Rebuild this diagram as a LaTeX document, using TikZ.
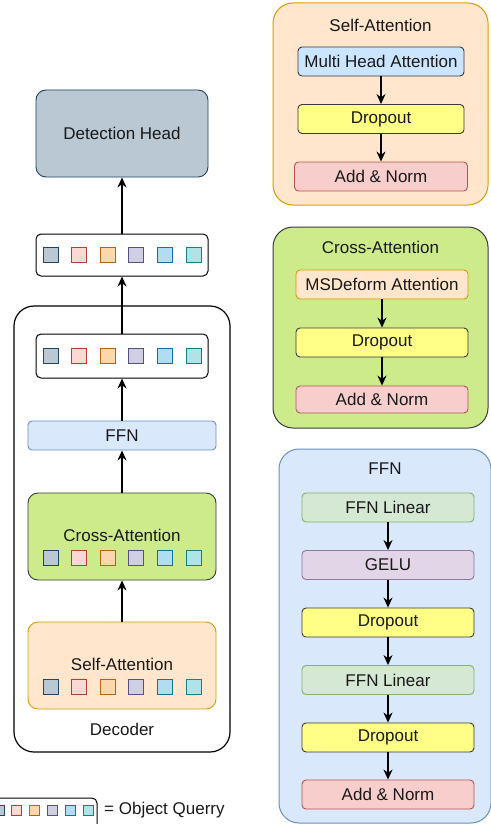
\documentclass[tikz,border=0pt]{standalone}
\usepackage{fontspec}
\setmainfont{Liberation Sans}
\usetikzlibrary{arrows.meta}

\definecolor{qf1}{HTML}{BAC8D3}\definecolor{qd1}{HTML}{23445D}
\definecolor{qf2}{HTML}{FAD9D5}\definecolor{qd2}{HTML}{AE4132}
\definecolor{qf3}{HTML}{FAD7AC}\definecolor{qd3}{HTML}{B46504}
\definecolor{qf4}{HTML}{D0CEE2}\definecolor{qd4}{HTML}{56517E}
\definecolor{qf5}{HTML}{B1DDF0}\definecolor{qd5}{HTML}{10739E}
\definecolor{qf6}{HTML}{B0E3E6}\definecolor{qd6}{HTML}{0E8088}
\definecolor{orgfill}{HTML}{FFE6CC}\definecolor{orgline}{HTML}{D79B00}
\definecolor{grnfill}{HTML}{CDEB8B}\definecolor{darkline}{HTML}{36393D}
\definecolor{blufill}{HTML}{DAE8FC}\definecolor{bluline}{HTML}{6C8EBF}
\definecolor{mhafill}{HTML}{CCE5FF}
\definecolor{yelfill}{HTML}{FFFF88}
\definecolor{redfill}{HTML}{F8CECC}\definecolor{redline}{HTML}{B85450}
\definecolor{linfill}{HTML}{D5E8D4}\definecolor{linline}{HTML}{82B366}
\definecolor{gelfill}{HTML}{E1D5E7}\definecolor{gelline}{HTML}{9673A6}

\newcommand{\fs}{\fontsize{17}{20}\selectfont}
% one row of six object queries: name, x, y, size, spacing
\newcommand{\qrow}[5]{%
  \foreach \i in {1,...,6}
    \node[qsq, minimum size=#4pt, fill=qf\i, draw=qd\i] (#1\i) at ({#2+(\i-3.5)*#5},#3) {};
}

\tikzset{
  blk/.style={draw=darkline, line width=0.9pt, rounded corners=4pt, inner sep=0pt,
    minimum height=29pt, font=\fs, text=black!90},
  panel/.style={line width=1pt, rounded corners=20pt, inner sep=0pt},
  qbox/.style={draw, line width=1pt, rounded corners=5pt, inner sep=0pt, fill=white},
  qsq/.style={line width=0.9pt, inner sep=0pt},
  lbl/.style={font=\fs, text=black!90, inner sep=0pt},
  flow/.style={line width=1.2pt, -{Stealth[length=10pt,width=9pt]}},
}

\begin{document}
\begin{tikzpicture}[x=1pt,y=-1pt]
  \useasboundingbox (0,0) rectangle (490,824);

  % decoder column
  \node[panel, draw=black, line width=1.2pt, minimum width=216pt, minimum height=446pt] (dec) at (122,529) {};
  \node[lbl] (declbl) at (122,729) {Decoder};

  \node[blk, draw=qd1, fill=qf1, rounded corners=10pt, minimum width=172pt, minimum height=87pt] (head) at (122,133.5) {Detection Head};
  \node[qbox, minimum width=172pt, minimum height=42pt] (qout) at (122,255) {};
  \qrow{qo}{122}{255}{15}{28.6}
  \node[qbox, minimum width=172pt, minimum height=44pt] (qin) at (122,356) {};
  \qrow{qi}{122}{356}{15}{28.6}
  \node[blk, draw=bluline, fill=blufill, minimum width=188pt] (ffn) at (122,435.5) {FFN};
  \node[blk, fill=grnfill, rounded corners=10pt, minimum width=188pt, minimum height=87pt] (cross) at (122,536.5) {};
  \node[lbl] (crosslbl) at (122,535) {Cross-Attention};
  \qrow{qc}{122}{558}{15}{28.6}
  \node[blk, draw=orgline, fill=orgfill, rounded corners=10pt, minimum width=188pt, minimum height=87pt] (self) at (122,665.5) {};
  \node[lbl] (selflbl) at (122,664) {Self-Attention};
  \qrow{qs}{122}{687}{15}{28.6}

  \draw[flow] (self) -- (cross);
  \draw[flow] (cross) -- (ffn);
  \draw[flow] (ffn) -- (qin);
  \draw[flow] (qin) -- (qout);
  \draw[flow] (qout) -- (head);

  % legend
  \node[qbox, minimum width=107pt, minimum height=32pt] (legbox) at (43.5,814) {};
  \qrow{ql}{43.5}{810}{10}{17.8}
  \node[lbl, anchor=west] (legtxt) at (104,810) {= Object Querry};

  % self-attention block
  \node[panel, draw=orgline, fill=orgfill, minimum width=215pt, minimum height=202pt] (sap) at (380.5,104) {};
  \node[lbl] (saplbl) at (380.5,25) {Self-Attention};
  \node[blk, fill=mhafill, minimum width=166pt] (mha) at (381,61.5) {Multi Head Attention};
  \node[blk, fill=yelfill, minimum width=166pt] (sadrop) at (381,119) {Dropout};
  \node[blk, draw=redline, fill=redfill, minimum width=173pt] (sanorm) at (381,176.5) {Add \& Norm};
  \draw[flow] (mha) -- (sadrop);
  \draw[flow] (sadrop) -- (sanorm);

  % cross-attention block
  \node[panel, draw=darkline, fill=grnfill, minimum width=215pt, minimum height=201pt] (cap) at (380.5,327.5) {};
  \node[lbl] (caplbl) at (380.5,247) {Cross-Attention};
  \node[blk, draw=orgline, fill=orgfill, minimum width=172pt] (msd) at (382,284.5) {MSDeform Attention};
  \node[blk, fill=yelfill, minimum width=172pt] (cadrop) at (382,342.5) {Dropout};
  \node[blk, draw=redline, fill=redfill, minimum width=172pt, minimum height=27pt] (canorm) at (382,399.5) {Add \& Norm};
  \draw[flow] (msd) -- (cadrop);
  \draw[flow] (cadrop) -- (canorm);

  % ffn block
  \node[panel, draw=bluline, fill=blufill, minimum width=212pt, minimum height=374pt] (fp) at (385,636) {};
  \node[lbl] (fplbl) at (385,469) {FFN};
  \node[blk, draw=linline, fill=linfill, minimum width=172pt] (lin1) at (388,507.5) {FFN Linear};
  \node[blk, draw=gelline, fill=gelfill, minimum width=172pt] (gelu) at (388,565) {GELU};
  \node[blk, fill=yelfill, minimum width=172pt] (fdrop1) at (388,622.5) {Dropout};
  \node[blk, draw=linline, fill=linfill, minimum width=172pt] (lin2) at (388,680) {FFN Linear};
  \node[blk, fill=yelfill, minimum width=172pt] (fdrop2) at (388,737.5) {Dropout};
  \node[blk, draw=redline, fill=redfill, minimum width=172pt] (fnorm) at (388,794.5) {Add \& Norm};
  \draw[flow] (lin1) -- (gelu);
  \draw[flow] (gelu) -- (fdrop1);
  \draw[flow] (fdrop1) -- (lin2);
  \draw[flow] (lin2) -- (fdrop2);
  \draw[flow] (fdrop2) -- (fnorm);
\end{tikzpicture}
\end{document}
